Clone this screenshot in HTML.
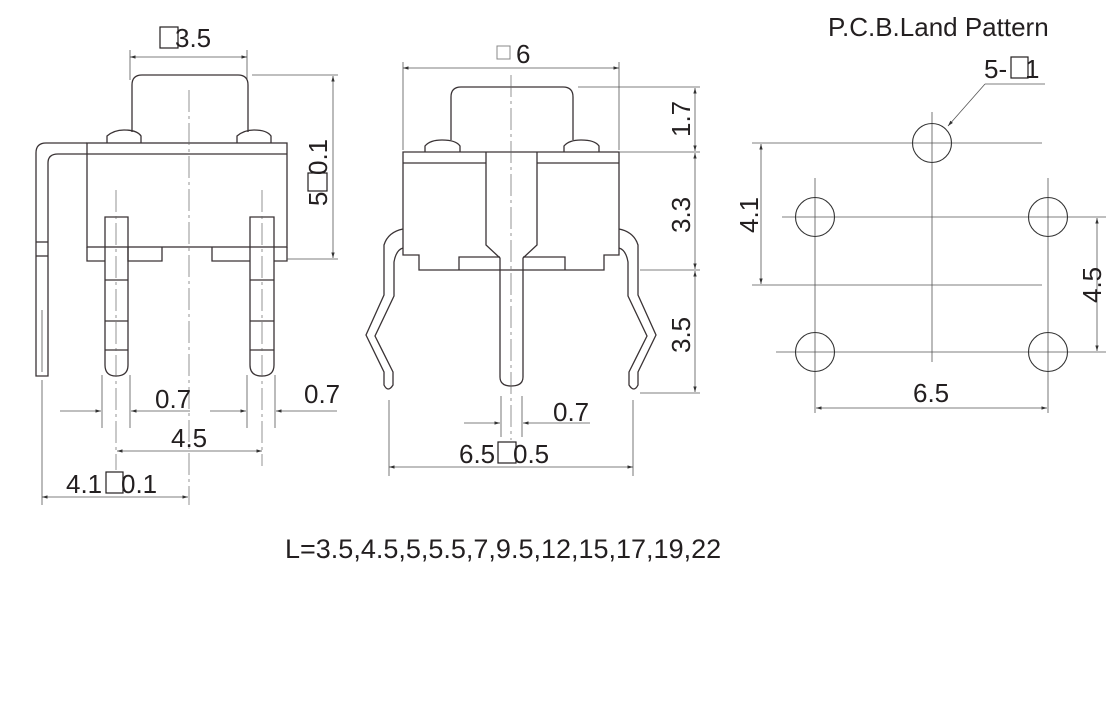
<!DOCTYPE html>
<html><head><meta charset="utf-8"><style>
html,body{margin:0;padding:0;background:#fff;}
svg{display:block;}
text{font-family:"Liberation Sans",Arial,sans-serif;fill:#231f20;font-size:26px;}
.o{fill:none;stroke:#3a3335;stroke-width:1.3;}
.d{fill:none;stroke:#555;stroke-width:0.8;}
.c{fill:none;stroke:#666;stroke-width:0.7;stroke-dasharray:22,4,3,4;}
.sq{fill:none;stroke:#231f20;stroke-width:1.2;}
</style></head><body>
<svg width="1120" height="716" viewBox="0 0 1120 716" xmlns="http://www.w3.org/2000/svg">
<defs>
<marker id="a" viewBox="0 0 10 10" refX="10" refY="5" markerWidth="7" markerHeight="7" orient="auto-start-reverse"><path d="M0,2 L10,5 L0,8 z" fill="#333"/></marker>
</defs>

<!-- ============ LEFT VIEW ============ -->
<rect class="sq" x="160" y="27" width="18" height="21"/>
<text x="175" y="47">3.5</text>
<line class="d" x1="130" y1="50" x2="130" y2="80"/>
<line class="d" x1="247" y1="50" x2="247" y2="80"/>
<line class="d" x1="130" y1="57" x2="247" y2="57" marker-start="url(#a)" marker-end="url(#a)"/>
<path class="o" d="M132,132 V85 Q132,75 142,75 H238 Q248,75 248,85 V132"/>
<path class="o" d="M107,143 V136 Q114,130 124,130 Q137,130 141,136 V143"/>
<path class="o" d="M237,143 V136 Q244,130 254,130 Q267,130 271,136 V143"/>
<rect class="o" x="87" y="143" width="200" height="104"/>
<line class="o" x1="87" y1="154" x2="287" y2="154"/>
<path class="o" d="M87,143 H46 Q36,143 36,153 V376 H48 V163 Q48,154 58,154 H87"/>
<line class="o" x1="36" y1="242" x2="48" y2="242"/>
<line class="o" x1="36" y1="256" x2="48" y2="256"/>
<line class="d" x1="42" y1="310" x2="42" y2="372"/>
<path class="o" d="M87,247 V261 H105 M128,247 V261 H162 V247"/>
<path class="o" d="M212,247 V261 H250 M274,261 H287 V247"/>
<path class="o" d="M105,217 H128 V365 Q128,376 116,376 Q105,376 105,365 Z"/>
<path class="o" d="M250,217 H274 V365 Q274,376 262,376 Q250,376 250,365 Z"/>
<g class="o">
<line x1="105" y1="280" x2="128" y2="280"/><line x1="105" y1="321" x2="128" y2="321"/><line x1="105" y1="350" x2="128" y2="350"/>
<line x1="250" y1="280" x2="274" y2="280"/><line x1="250" y1="321" x2="274" y2="321"/><line x1="250" y1="350" x2="274" y2="350"/>
</g>
<line class="c" x1="116" y1="190" x2="116" y2="470"/>
<line class="c" x1="262" y1="190" x2="262" y2="466"/>
<line class="c" x1="189" y1="90" x2="189" y2="505"/>
<line class="d" x1="252" y1="75" x2="338" y2="75"/>
<line class="d" x1="287" y1="259" x2="338" y2="259"/>
<line class="d" x1="333" y1="76" x2="333" y2="258" marker-start="url(#a)" marker-end="url(#a)"/>
<g transform="translate(327,206) rotate(-90)"><text x="0" y="0">5</text><rect class="sq" x="15" y="-19" width="18" height="19"/><text x="31" y="0">0.1</text></g>
<line class="d" x1="102" y1="375" x2="102" y2="428"/>
<line class="d" x1="130" y1="375" x2="130" y2="428"/>
<line class="d" x1="247" y1="375" x2="247" y2="428"/>
<line class="d" x1="275" y1="375" x2="275" y2="428"/>
<line class="d" x1="60" y1="411" x2="101" y2="411" marker-end="url(#a)"/>
<line class="d" x1="190" y1="411" x2="131" y2="411" marker-end="url(#a)"/>
<line class="d" x1="210" y1="411" x2="246" y2="411" marker-end="url(#a)"/>
<line class="d" x1="337" y1="411" x2="276" y2="411" marker-end="url(#a)"/>
<text x="155" y="408">0.7</text>
<text x="304" y="403">0.7</text>
<line class="d" x1="117" y1="451" x2="262" y2="451" marker-start="url(#a)" marker-end="url(#a)"/>
<text x="171" y="447">4.5</text>
<line class="d" x1="42" y1="380" x2="42" y2="505"/>
<line class="d" x1="42" y1="497" x2="188" y2="497" marker-start="url(#a)" marker-end="url(#a)"/>
<text x="66" y="493">4.1</text>
<rect class="sq" x="106" y="472" width="17" height="21"/>
<text x="121" y="493">0.1</text>

<!-- ============ MIDDLE VIEW ============ -->
<rect fill="none" stroke="#888" stroke-width="1" x="497" y="46" width="13" height="13"/>
<text x="516" y="63">6</text>
<line class="d" x1="403" y1="62" x2="403" y2="150"/>
<line class="d" x1="619" y1="62" x2="619" y2="150"/>
<line class="d" x1="403" y1="68" x2="619" y2="68" marker-start="url(#a)" marker-end="url(#a)"/>
<path class="o" d="M451,140 V97 Q451,87 461,87 H563 Q573,87 573,97 V140"/>
<path class="o" d="M425,152 V146 Q430,140 442,140 Q456,140 460,146 V152"/>
<path class="o" d="M564,152 V146 Q569,140 581,140 Q595,140 599,146 V152"/>
<path class="o" d="M403,152 H619 V255 H604 V270 H419 V255 H403 Z"/>
<line class="o" x1="403" y1="163" x2="486" y2="163"/>
<line class="o" x1="537" y1="163" x2="619" y2="163"/>
<path class="o" d="M459,270 V257 H500 M523,257 H565 V270"/>
<path class="o" d="M486,152 V245 L500,258 V377 Q500,386 511,386 Q523,386 523,377 V258 L537,245 V152"/>
<line class="c" x1="511" y1="75" x2="511" y2="440"/>
<path class="o" d="M403,229 Q388,232 384,245 V295 L366,335 L384,372 V385 Q388,393 393,385 V372 L375,336 L394,296 V262 Q396,250 403,248"/>
<path class="o" d="M619,229 Q634,232 638,245 V295 L656,335 L638,372 V385 Q634,393 629,385 V372 L647,336 L628,296 V262 Q626,250 619,248"/>
<line class="d" x1="578" y1="87" x2="700" y2="87"/>
<line class="d" x1="619" y1="152" x2="700" y2="152"/>
<line class="d" x1="640" y1="270" x2="700" y2="270"/>
<line class="d" x1="640" y1="393" x2="700" y2="393"/>
<line class="d" x1="695" y1="88" x2="695" y2="151" marker-start="url(#a)" marker-end="url(#a)"/>
<line class="d" x1="695" y1="153" x2="695" y2="269" marker-start="url(#a)" marker-end="url(#a)"/>
<line class="d" x1="695" y1="271" x2="695" y2="392" marker-start="url(#a)" marker-end="url(#a)"/>
<text transform="translate(690,137) rotate(-90)">1.7</text>
<text transform="translate(690,233) rotate(-90)">3.3</text>
<text transform="translate(690,353) rotate(-90)">3.5</text>
<line class="d" x1="501" y1="396" x2="501" y2="437"/>
<line class="d" x1="522" y1="396" x2="522" y2="437"/>
<line class="d" x1="464" y1="423" x2="500" y2="423" marker-end="url(#a)"/>
<line class="d" x1="590" y1="423" x2="523" y2="423" marker-end="url(#a)"/>
<text x="553" y="421">0.7</text>
<line class="d" x1="389" y1="400" x2="389" y2="476"/>
<line class="d" x1="633" y1="400" x2="633" y2="476"/>
<line class="d" x1="389" y1="467" x2="633" y2="467" marker-start="url(#a)" marker-end="url(#a)"/>
<text x="459" y="463">6.5</text>
<rect class="sq" x="498" y="442" width="18" height="21"/>
<text x="513" y="463">0.5</text>

<!-- ============ PCB ============ -->
<text x="828" y="36">P.C.B.Land Pattern</text>
<text x="984" y="78">5-</text>
<rect class="sq" x="1011" y="57" width="17" height="21"/>
<text x="1025" y="78">1</text>
<line class="d" x1="985" y1="84" x2="1045" y2="84"/>
<line class="d" x1="985" y1="84" x2="948" y2="126" marker-end="url(#a)"/>
<g class="d">
<line x1="752" y1="143" x2="1042" y2="143"/>
<line x1="782" y1="217" x2="1106" y2="217"/>
<line x1="752" y1="285" x2="1042" y2="285"/>
<line x1="776" y1="352" x2="1106" y2="352"/>
<line x1="932" y1="112" x2="932" y2="362"/>
<line x1="815" y1="178" x2="815" y2="413"/>
<line x1="1048" y1="178" x2="1048" y2="413"/>
</g>
<g fill="none" stroke="#333" stroke-width="1.1">
<circle cx="932" cy="143" r="19.5"/>
<circle cx="815" cy="217" r="19.5"/>
<circle cx="1048" cy="217" r="19.5"/>
<circle cx="815" cy="352" r="19.5"/>
<circle cx="1048" cy="352" r="19.5"/>
</g>
<line class="d" x1="761" y1="144" x2="761" y2="284" marker-start="url(#a)" marker-end="url(#a)"/>
<text transform="translate(758,233) rotate(-90)">4.1</text>
<line class="d" x1="1097" y1="218" x2="1097" y2="351" marker-start="url(#a)" marker-end="url(#a)"/>
<text transform="translate(1101,303) rotate(-90)">4.5</text>
<line class="d" x1="816" y1="408" x2="1047" y2="408" marker-start="url(#a)" marker-end="url(#a)"/>
<text x="913" y="402">6.5</text>

<text x="285" y="558" style="font-size:27px">L=3.5,4.5,5,5.5,7,9.5,12,15,17,19,22</text>
</svg>
</body></html>
